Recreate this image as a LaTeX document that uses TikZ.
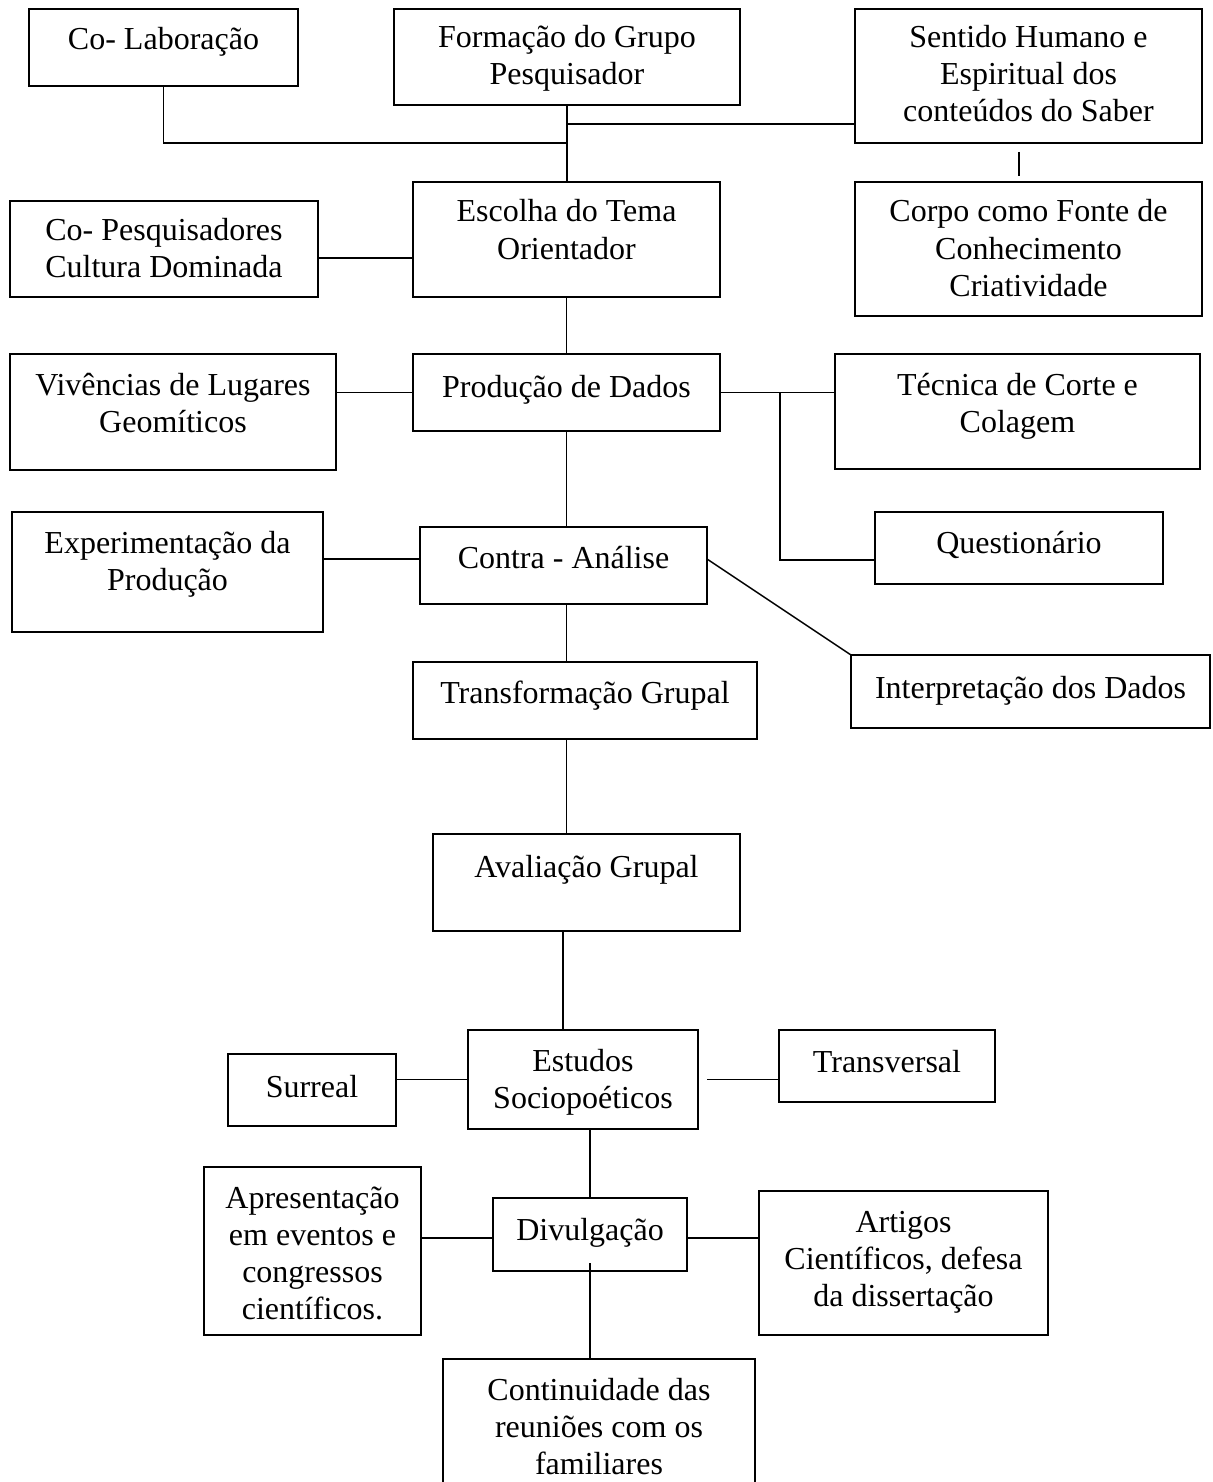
\documentclass[tikz,border=0pt]{standalone}
\usepackage{fontspec}
\setmainfont{Liberation Serif}

\begin{document}
\begin{tikzpicture}[x=0.5pt,y=-0.5pt,
  box/.style={draw,line width=1pt,anchor=north west,inner sep=0pt,outer sep=0pt,
    align=flush center,font=\fontsize{16}{18.5}\selectfont},
  link/.style={line width=0.85pt}]
\clip (0,0) rectangle (1212,1482);
% upper row
\node[box,text width=134.5pt,text height=20.25pt,text depth=18.25pt] (cola) at (29,9) {Co- Laboração};
\node[box,text width=173pt,text height=19.5pt,text depth=28.5pt] (form) at (394,9) {Formação do Grupo\\Pesquisador};
\node[box,text width=173.5pt,text height=19.5pt,text depth=47.5pt] (sent) at (855,9) {Sentido Humano e\\Espiritual dos\\conteúdos do Saber};
\node[box,text width=153.5pt,text height=20pt,text depth=37.5pt] (escol) at (413,182) {Escolha do Tema\\Orientador};
\node[box,text width=154pt,text height=20pt,text depth=28pt] (copes) at (10,201) {Co- Pesquisadores\\Cultura Dominada};
\node[box,text width=173.5pt,text height=20pt,text depth=47pt] (corpo) at (855,182) {Corpo como Fonte de\\Conhecimento\\Criatividade};
% data
\node[box,text width=163pt,text height=20.5pt,text depth=37.5pt] (viv) at (10,354) {Vivências de Lugares\\Geomíticos};
\node[box,text width=153.5pt,text height=21.5pt,text depth=17pt] (prod) at (413,354) {Produção de Dados};
\node[box,text width=182.5pt,text height=20.5pt,text depth=37pt] (tec) at (835,354) {Técnica de Corte e\\Colagem};
\node[box,text width=144pt,text height=20.5pt,text depth=15.5pt] (quest) at (875,512) {Questionário};
\node[box,text width=143.5pt,text height=20.5pt,text depth=18pt] (contra) at (420,527) {Contra - Análise\hspace*{18pt}};
\node[box,text width=155.5pt,text height=20.5pt,text depth=39.5pt] (exper) at (12,512) {Experimentação da\\Produção};
\node[box,text width=179.5pt,text height=21.5pt,text depth=15pt] (interp) at (851,655) {Interpretação dos Dados\hspace*{3.5pt}};
\node[box,text width=172pt,text height=20.5pt,text depth=18pt] (transf) at (413,662) {Transformação Grupal};
\node[box,text width=153.5pt,text height=21.5pt,text depth=27pt] (aval) at (433,834) {Avaliação Grupal};
% lower part
\node[box,text width=115pt,text height=20.5pt,text depth=29pt] (estud) at (468,1030) {Estudos\\Sociopoéticos};
\node[box,text width=84pt,text height=21.5pt,text depth=14.5pt] (surr) at (228,1054) {Surreal\hspace*{19pt}};
\node[box,text width=108pt,text height=21pt,text depth=15pt] (transv) at (779,1030) {Transversal\hspace*{13pt}};
\node[box,text width=97pt,text height=21pt,text depth=15.5pt] (divul) at (493,1198) {Divulgação};
\node[box,text width=108.5pt,text height=20.5pt,text depth=63.5pt] (apres) at (204,1167) {Apresentação\\em eventos e\\congressos\\científicos.};
\node[box,text width=144.5pt,text height=20.5pt,text depth=51.5pt] (artig) at (759,1191) {Artigos\\Científicos, defesa\\da dissertação};
\node[box,text width=156pt,text height=20.5pt,text depth=60pt] (cont) at (443,1359) {Continuidade das\\reuniões com os\\familiares};
% connectors
\coordinate (jcola) at (567,143);
\coordinate (jsent) at (567,124);
\coordinate (jquest) at (780,392.5);
\draw[link] (form.south) -- (form.south |- escol.north);
\draw[link] (cola.south) |- (jcola);
\draw[link] (jsent) -- (jsent -| sent.west);
\draw[link] ([yshift=-4.5pt]copes.east) -- ([yshift=-4.5pt]copes.east -| escol.west);
\draw[link] ([xshift=-4.75pt,yshift=-4.5pt]sent.south) -- ([xshift=-4.75pt,yshift=3pt]corpo.north);
\draw[link] (escol.south) -- (prod.north);
\draw[link] (viv.east |- prod.west) -- (prod.west);
\draw[link] (prod.east) -- (prod.east -| tec.west);
\draw[link] (jquest) |- ([yshift=-6pt]quest.west);
\draw[link] (prod.south) -- (prod.south |- contra.north);
\draw[link] ([yshift=3.25pt]contra.west -| exper.east) -- ([yshift=3.25pt]contra.west);
\draw[line width=0.7pt] ([yshift=3.25pt]contra.east) -- (interp.north west);
\draw[link] (prod.south |- contra.south) -- (prod.south |- transf.north);
\draw[link] (prod.south |- transf.south) -- (prod.south |- aval.north);
\draw[link] ([xshift=-10pt]estud.north) -- ([xshift=-10pt]estud.north |- aval.south);
\draw[link] (estud.west -| surr.east) -- (estud.west);
\draw[link] ([xshift=4.5pt]estud.east) -- (estud.east -| transv.west);
\draw[link] (divul.north |- estud.south) -- (divul.north);
\draw[link] ([yshift=-1.75pt]divul.west -| apres.east) -- ([yshift=-1.75pt]divul.west);
\draw[link] ([yshift=-1.75pt]divul.east) -- ([yshift=-1.75pt]divul.east -| artig.west);
\draw[link] ([yshift=4pt]divul.south) -- (divul.south |- cont.north);
\end{tikzpicture}
\end{document}
